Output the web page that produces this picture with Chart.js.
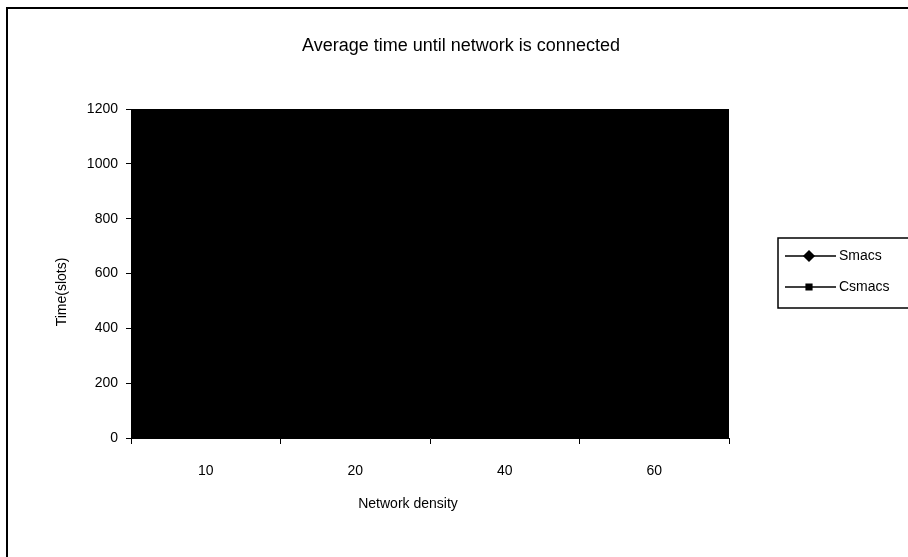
<!DOCTYPE html>
<html>
<head>
<meta charset="utf-8">
<script src="https://cdn.jsdelivr.net/npm/chart.js@4.4.0/dist/chart.umd.min.js"></script>
<style>
    html, body { margin: 0; padding: 0; background: #fff; overflow: hidden; }
    #wrap { position: relative; width: 908px; height: 557px; }
    #frame {
        position: absolute; left: 6px; top: 7px;
        width: 1000px; height: 1000px;
        border: 2px solid #000; box-sizing: border-box;
    }
    #chart { position: absolute; left: 0; top: 0; }
</style>
</head>
<body>
<div id="wrap">
    <div id="frame"></div>
    <canvas id="chart" width="908" height="557"></canvas>
</div>
<script>
// network density categories
const densities = ["10", "20", "40", "60"];

// average slots until the network is connected
const smacsTimes = [950, 720, 540, 430];
const csmacsTimes = [620, 470, 360, 300];

const yTicks = [0, 200, 400, 600, 800, 1000, 1200];

const chartTitle = "Average time until network is connected";
const xTitle = "Network density";
const yTitle = "Time(slots)";

const FONT = "'Liberation Sans', Arial, sans-serif";
Chart.defaults.font.family = FONT;
Chart.defaults.color = "#000";

// black plot area behind the series
const plotBackground = {
    id: "plotBackground",
    beforeDraw(chart) {
        const { ctx, chartArea } = chart;
        ctx.save();
        ctx.fillStyle = "#000";
        ctx.fillRect(chartArea.left, chartArea.top,
            chartArea.right - chartArea.left, chartArea.bottom - chartArea.top);
        ctx.restore();
    }
};

// chart title and axis titles, placed like the old spreadsheet layout
const titles = {
    id: "titles",
    afterDraw(chart) {
        const ctx = chart.ctx;
        ctx.save();
        ctx.fillStyle = "#000";
        ctx.textAlign = "center";
        ctx.textBaseline = "middle";
        ctx.font = "18px " + FONT;
        ctx.fillText(chartTitle, 461, 46);
        ctx.font = "14px " + FONT;
        ctx.fillText(xTitle, 408, 504);
        ctx.translate(62, 292);
        ctx.rotate(-Math.PI / 2);
        ctx.fillText(yTitle, 0, 0);
        ctx.restore();
    }
};

// boxed legend with a line sample and marker for each series
const boxedLegend = {
    id: "boxedLegend",
    afterDraw(chart) {
        const ctx = chart.ctx;
        const boxX = 778, boxY = 238, boxW = 140, boxH = 70;
        ctx.save();
        ctx.strokeStyle = "#000";
        ctx.lineWidth = 1.5;
        ctx.strokeRect(boxX, boxY, boxW, boxH);
        ctx.font = "14px " + FONT;
        ctx.textBaseline = "middle";
        ctx.fillStyle = "#000";
        chart.data.datasets.forEach((ds, i) => {
            const y = 256 + i * 31;
            ctx.beginPath();
            ctx.lineWidth = 1.5;
            ctx.moveTo(785, y);
            ctx.lineTo(836, y);
            ctx.stroke();
            Chart.helpers.drawPoint(ctx, {
                pointStyle: ds.pointStyle,
                radius: ds.pointStyle === "rectRot" ? 5 : 4,
                rotation: 0,
                borderWidth: 1
            }, 809, y);
            ctx.fillStyle = "#000";
            ctx.fill();
            ctx.fillText(ds.label, 839, y);
        });
        ctx.restore();
    }
};

const ctx = document.getElementById("chart").getContext("2d");
new Chart(ctx, {
    type: "line",
    data: {
        labels: densities,
        datasets: [
            {
                label: "Smacs",
                data: smacsTimes,
                borderColor: "#000",
                backgroundColor: "#000",
                borderWidth: 1.5,
                pointStyle: "rectRot",
                pointRadius: 5
            },
            {
                label: "Csmacs",
                data: csmacsTimes,
                borderColor: "#000",
                backgroundColor: "#000",
                borderWidth: 1.5,
                pointStyle: "rect",
                pointRadius: 4
            }
        ]
    },
    options: {
        responsive: false,
        animation: false,
        layout: { padding: { top: 109, right: 179, bottom: 0, left: 0 } },
        plugins: {
            legend: { display: false },
            tooltip: { enabled: false },
            title: { display: false }
        },
        scales: {
            x: {
                type: "category",
                offset: true,
                grid: { offset: true, drawOnChartArea: false, color: "#000", tickLength: 6 },
                border: { color: "#000", width: 1 },
                ticks: { padding: 19, font: { size: 14 } },
                afterFit(scale) { scale.height = 119; }
            },
            y: {
                min: 0,
                max: 1200,
                afterBuildTicks(scale) { scale.ticks = yTicks.map(v => ({ value: v })); },
                grid: { drawOnChartArea: false, color: "#000", tickLength: 5 },
                border: { color: "#000", width: 1 },
                ticks: { padding: 8, font: { size: 14 }, callback: v => String(v) },
                afterFit(scale) { scale.width = 131; }
            }
        }
    },
    plugins: [plotBackground, titles, boxedLegend]
});
</script>
</body>
</html>
